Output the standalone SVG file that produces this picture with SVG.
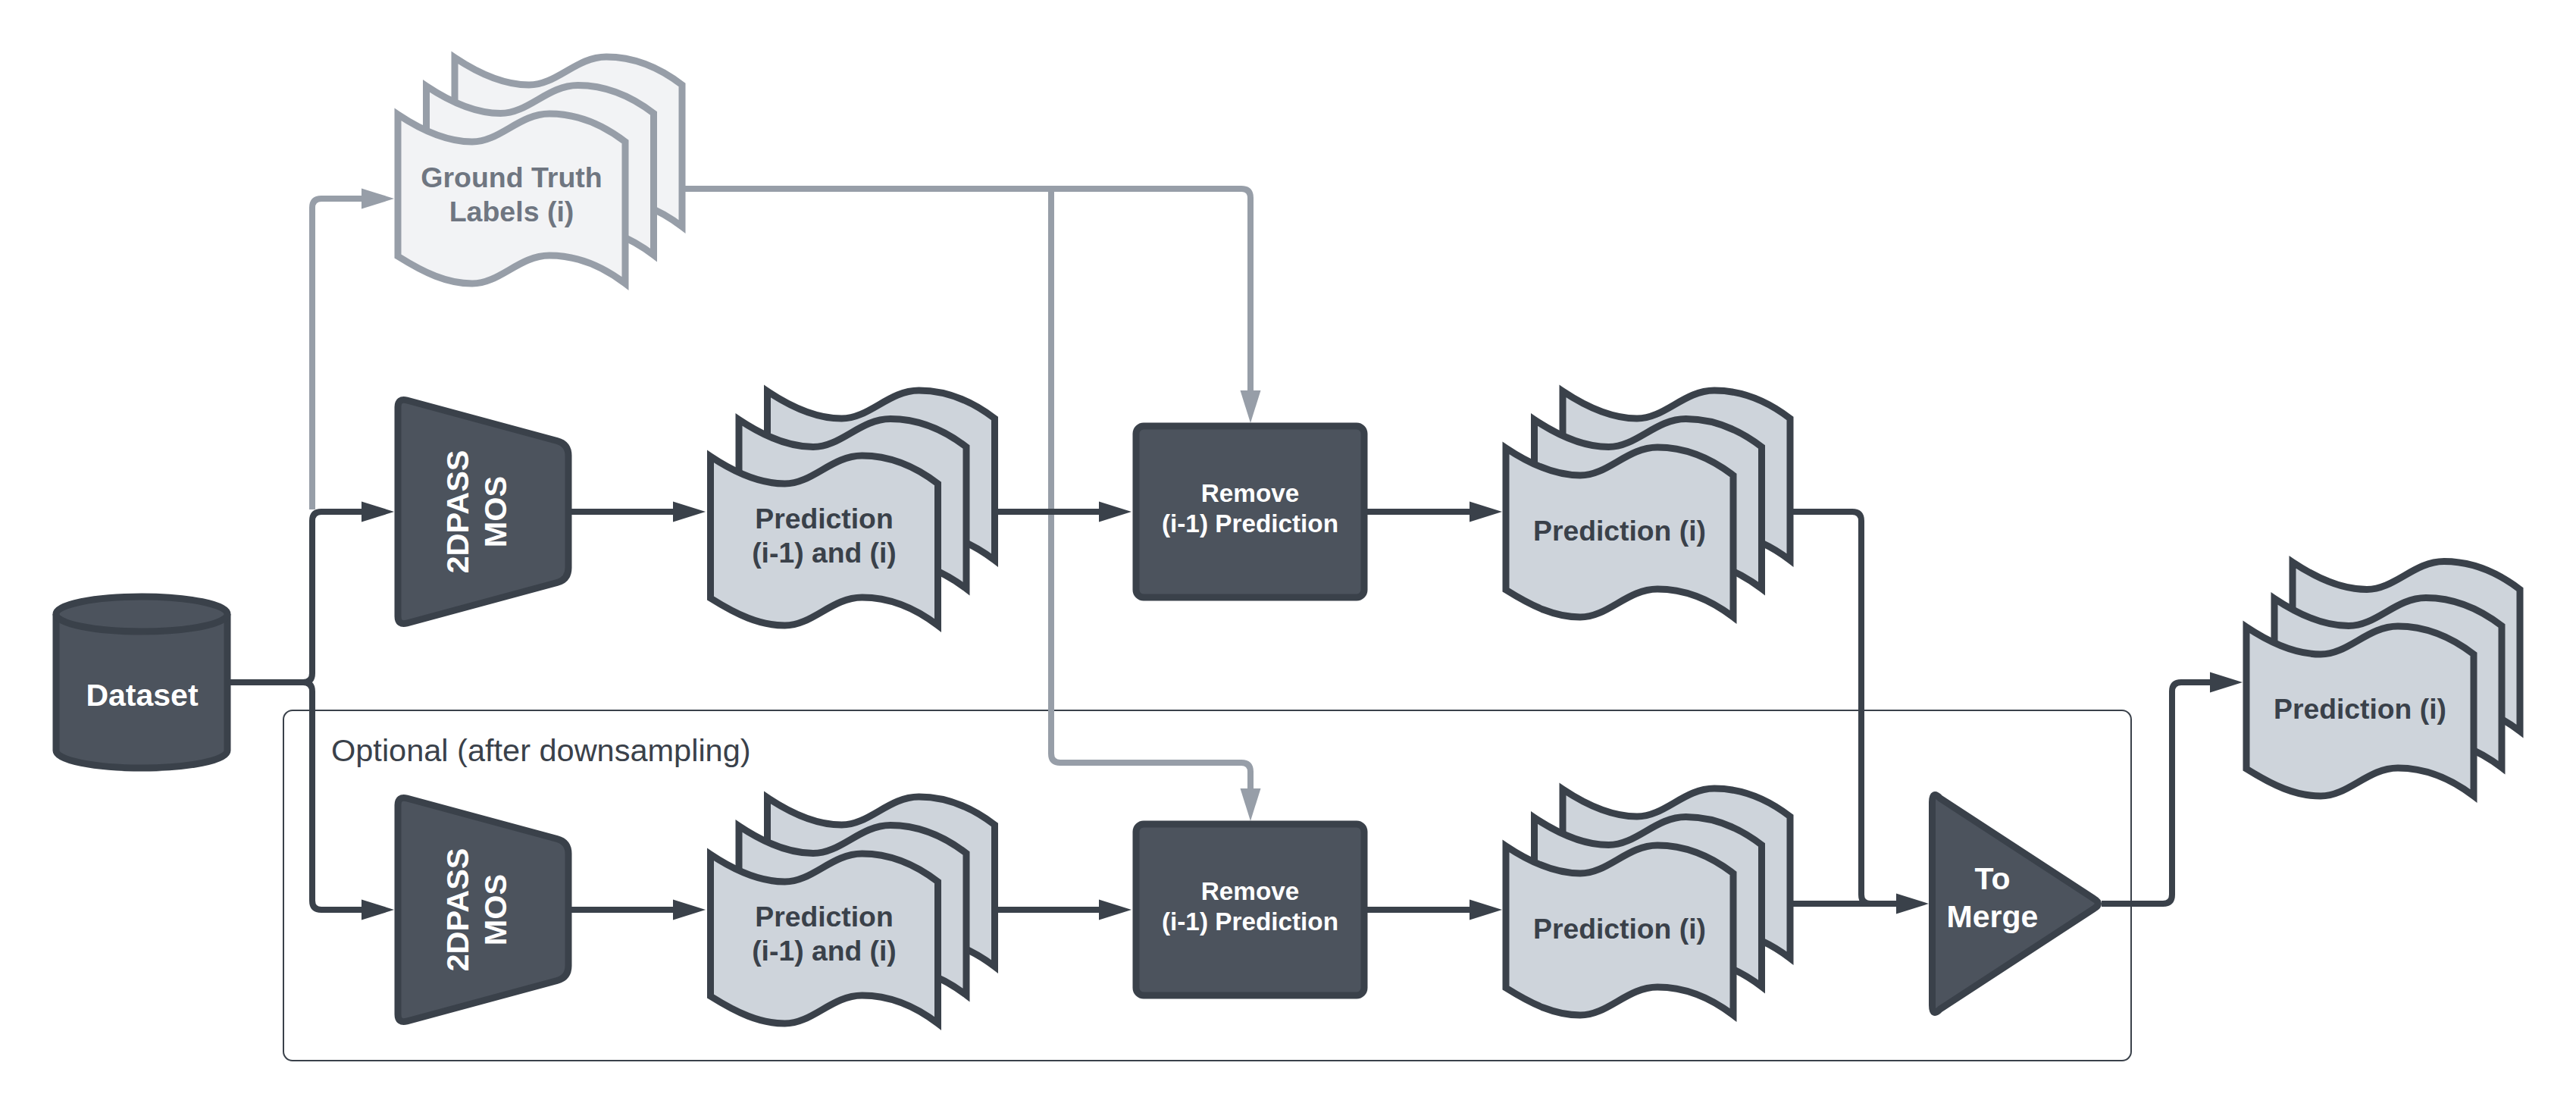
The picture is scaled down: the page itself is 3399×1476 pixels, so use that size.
<svg xmlns="http://www.w3.org/2000/svg" xmlns:xlink="http://www.w3.org/1999/xlink" width="3399" height="1476" viewBox="0 0 3399 1476">
<style>
text{font-family:"Liberation Sans",Arial,sans-serif;font-weight:700;text-anchor:middle}
.doc{fill:#ced4db;stroke:#3a414a;stroke-width:9;stroke-miterlimit:12}
.gdoc{fill:#f2f3f5;stroke:#979ea8;stroke-width:9;stroke-miterlimit:12}
.dark{fill:#4c535d;stroke:#3a414a;stroke-width:9;stroke-linejoin:round}
.w{fill:#fff}
.t{fill:#3a414a;font-size:37.300px}
.c{fill:none;stroke:#3a414a;stroke-width:8}
.g{fill:none;stroke:#979ea8;stroke-width:8}
.a{marker-end:url(#ah)}
.b{marker-end:url(#ahg)}
</style>
<defs>
<marker id="ah" markerUnits="userSpaceOnUse" markerWidth="44" markerHeight="28" refX="2" refY="14" orient="auto"><path d="M0 0.5L43 14L0 27.5Z" fill="#3a414a"/></marker>
<marker id="ahg" markerUnits="userSpaceOnUse" markerWidth="44" markerHeight="28" refX="2" refY="14" orient="auto"><path d="M0 0.5L43 14L0 27.5Z" fill="#979ea8"/></marker>
<path id="wave" d="M0 -2C33 20 65 34 98 34C135 34 160-3 200-3C235-3 270 11 300 34V221C270 198 235 184 200 184C160 184 135 221 98 221C65 221 35 207 0 185Z"/>
<g id="stack"><use xlink:href="#wave" x="75" y="-75"/><use xlink:href="#wave" x="37.5" y="-37.5"/><use xlink:href="#wave"/></g>
<path id="trap" d="M0 -138Q0 -150 12 -147L210 -93.500Q225 -89.400 225 -74V74Q225 89.400 210 93.500L12 147Q0 150 0 138Z"/>
</defs>

<g id="group-optional">
<rect x="374" y="937" width="2438" height="462" rx="12" fill="none" stroke="#3a414a" stroke-width="2"/>
<text x="437" y="1004" style="font-size:41.500px;font-weight:400;text-anchor:start;fill:#3a414a">Optional (after downsampling)</text>
</g>

<g id="connectors">
<path class="g b" d="M412 672V274Q412 262 424 262H479"/>
<path class="g b" d="M903 249H1387V994Q1387 1006 1399 1006H1638Q1650 1006 1650 1018V1042"/>
<path class="g b" d="M1387 249H1638Q1650 249 1650 261V517"/>
<path class="c a" d="M304 900H400Q412 900 412 888V687Q412 675 424 675H479"/>
<path class="c a" d="M304 900H400Q412 900 412 912V1188Q412 1200 424 1200H479"/>
<path class="c a" d="M750 675H890"/>
<path class="c a" d="M750 1200H890"/>
<path class="c a" d="M1316 675H1452"/>
<path class="c a" d="M1316 1200H1452"/>
<path class="c a" d="M1804 675H1941"/>
<path class="c a" d="M1804 1200H1941"/>
<path class="c" d="M2366 675H2444Q2456 675 2456 687V1180Q2456 1192 2468 1192H2504"/>
<path class="c a" d="M2366 1192H2504"/>
<path class="c a" d="M2773 1192H2854Q2866 1192 2866 1180V912Q2866 900 2878 900H2918"/>
</g>

<g id="ground-truth" class="gdoc">
<use xlink:href="#stack" x="525" y="153"/>
<text x="675" y="247" style="font-size:37.500px;fill:#6f7681;stroke:none">Ground Truth</text>
<text x="675" y="292" style="font-size:37.500px;fill:#6f7681;stroke:none">Labels (i)</text>
</g>

<g id="dataset">
<path class="dark" d="M74 810V990C74 1003 125 1013 187 1013C249 1013 300 1003 300 990V810"/>
<ellipse class="dark" cx="187" cy="810" rx="113" ry="23"/>
<text class="w" x="187.500" y="931" style="font-size:41px">Dataset</text>
</g>

<g id="mos-1">
<use class="dark" xlink:href="#trap" x="525" y="675"/>
<text class="w" transform="translate(618 675) rotate(-90)" style="font-size:41.500px">2DPASS</text>
<text class="w" transform="translate(668 675) rotate(-90)" style="font-size:41.500px">MOS</text>
</g>
<g id="mos-2">
<use class="dark" xlink:href="#trap" x="525" y="1200"/>
<text class="w" transform="translate(618 1200) rotate(-90)" style="font-size:41.500px">2DPASS</text>
<text class="w" transform="translate(668 1200) rotate(-90)" style="font-size:41.500px">MOS</text>
</g>

<g id="prediction-pair-1" class="doc">
<use xlink:href="#wave" x="1012.500" y="518"/>
<use xlink:href="#wave" x="975" y="555.500"/>
<use xlink:href="#wave" x="937.500" y="604"/>
<text class="t" x="1087.500" y="697" style="stroke:none">Prediction</text>
<text class="t" x="1087.500" y="742" style="stroke:none">(i-1) and (i)</text>
</g>
<g id="prediction-pair-2" class="doc">
<use xlink:href="#stack" x="937.500" y="1129"/>
<text class="t" x="1087.500" y="1222" style="stroke:none">Prediction</text>
<text class="t" x="1087.500" y="1267" style="stroke:none">(i-1) and (i)</text>
</g>

<g id="remove-1">
<rect class="dark" x="1499" y="562" width="301" height="226" rx="10"/>
<text class="w" x="1649.500" y="662" style="font-size:33.300px">Remove</text>
<text class="w" x="1649.500" y="702" style="font-size:33.300px">(i-1) Prediction</text>
</g>
<g id="remove-2">
<rect class="dark" x="1499" y="1087" width="301" height="226" rx="10"/>
<text class="w" x="1649.500" y="1187" style="font-size:33.300px">Remove</text>
<text class="w" x="1649.500" y="1227" style="font-size:33.300px">(i-1) Prediction</text>
</g>

<g id="prediction-1" class="doc">
<use xlink:href="#stack" x="1987" y="593"/>
<text class="t" x="2137" y="713" style="stroke:none">Prediction (i)</text>
</g>
<g id="prediction-2" class="doc">
<use xlink:href="#stack" x="1987" y="1118"/>
<text class="t" x="2137" y="1238" style="stroke:none">Prediction (i)</text>
</g>

<g id="to-merge">
<path class="dark" d="M2549.500 1058Q2549.500 1042 2560 1053L2763 1185.500Q2774 1192 2763 1198.500L2560 1331Q2549.500 1342 2549.500 1326Z" style="stroke-linejoin:miter"/>
<text class="w" x="2629" y="1173" style="font-size:41px">To</text>
<text class="w" x="2629" y="1223" style="font-size:41px">Merge</text>
</g>

<g id="prediction-final" class="doc">
<use xlink:href="#wave" x="3025" y="743.500"/>
<use xlink:href="#wave" x="3001" y="791.500"/>
<use xlink:href="#wave" x="2964" y="829"/>
<text class="t" x="3114" y="948" style="stroke:none">Prediction (i)</text>
</g>
</svg>
